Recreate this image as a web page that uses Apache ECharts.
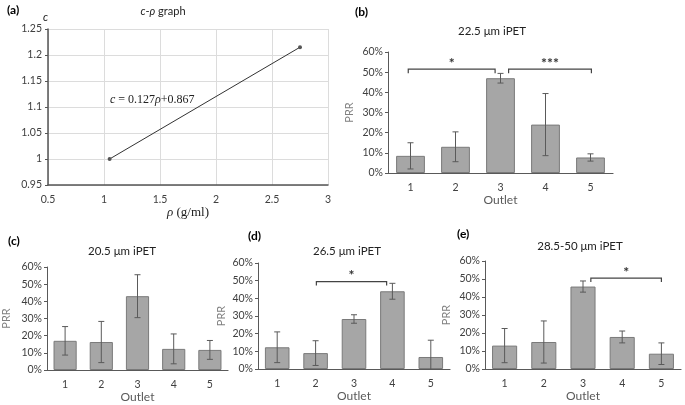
<!DOCTYPE html>
<html><head><meta charset="utf-8">
<script src="https://cdn.jsdelivr.net/npm/echarts/dist/echarts.min.js"></script>
<style>html,body{margin:0;padding:0;background:#fff}#c{width:685px;height:405px}</style>
</head><body><div id="c"></div>
<script>
// ---- data ----
const rhoPoints = [[1.05, 1.0], [2.75, 1.215]];
const outlets = ['1', '2', '3', '4', '5'];
// PRR values (%) and error half-widths (%)
const prrB = [8.5, 13.0, 47.0, 24.0, 7.7];
const errB = [6.5, 7.4, 2.4, 15.4, 1.8];
const prrC = [17.0, 16.3, 43.0, 12.3, 11.7];
const errC = [8.3, 12.0, 12.5, 8.7, 5.5];
const prrD = [12.3, 9.0, 28.3, 44.0, 6.8];
const errD = [8.7, 7.0, 2.4, 4.5, 9.5];
const prrE = [13.0, 15.0, 45.8, 17.8, 8.5];
const errE = [9.5, 11.7, 3.1, 3.3, 6.0];
// significance brackets: [from outlet, to outlet, level %, label]
const brB = [[0.95, 2.88, 51.5, '*'], [3.18, 5.02, 51.5, '***']];
const brD = [[2.02, 3.85, 49.5, '*']];
const brE = [[3.2, 5.0, 50.5, '*']];

const FONT = 'Lato';
const dark = '#404040';
const grey = '#595959';
const TICK = 10.5;

const grids = [
  {left: 48, top: 29, width: 280, height: 156},
  {left: 388, top: 52, width: 225, height: 121},
  {left: 42, top: 267, width: 186, height: 103},
  {left: 258, top: 263, width: 192, height: 106},
  {left: 485, top: 261, width: 196, height: 108}
];

function barXAxis(gi, gap) {
  return {
    type: 'category', gridIndex: gi, data: outlets,
    name: 'Outlet', nameLocation: 'middle', nameGap: gap,
    nameTextStyle: {fontFamily: FONT, fontSize: 12, color: grey},
    axisLine: {lineStyle: {color: grey, width: 1.2}},
    axisTick: {show: false},
    axisLabel: {fontFamily: FONT, fontSize: TICK, color: dark, margin: 9}
  };
}
function barYAxis(gi, gap) {
  return {
    type: 'value', gridIndex: gi, min: 0, max: 60, interval: 10,
    name: 'PRR', nameLocation: 'middle', nameGap: gap, nameRotate: 90,
    nameTextStyle: {fontFamily: FONT, fontSize: 11, color: '#808080'},
    axisLine: {show: true, lineStyle: {color: grey, width: 1}},
    axisTick: {show: true, length: 3, lineStyle: {color: grey}},
    splitLine: {show: false},
    axisLabel: {fontFamily: FONT, fontSize: TICK, color: dark, margin: 5, formatter: '{value}%'}
  };
}
function barSeries(gi, vals) {
  return {
    type: 'bar', xAxisIndex: gi, yAxisIndex: gi, data: vals,
    barCategoryGap: '36%',
    itemStyle: {color: '#a6a6a6', borderColor: '#7a7a7a', borderWidth: 1},
    silent: true, animation: false
  };
}
function errSeries(gi, vals, errs) {
  return {
    type: 'custom', xAxisIndex: gi, yAxisIndex: gi, animation: false, silent: true, z: 5,
    data: vals.map((v, i) => [i, v, errs[i]]),
    renderItem: function (params, api) {
      const x = api.value(0), v = api.value(1), e = api.value(2);
      const lo = Math.max(0, v - e), hi = v + e;
      const ph = api.coord([x, hi]), pl = api.coord([x, lo]);
      const w = 3;
      const st = {stroke: '#5a5a5a', lineWidth: 1};
      const ch = [
        {type: 'line', shape: {x1: ph[0], y1: ph[1], x2: pl[0], y2: pl[1]}, style: st},
        {type: 'line', shape: {x1: ph[0] - w, y1: ph[1], x2: ph[0] + w, y2: ph[1]}, style: st}
      ];
      if (v - e > 0) ch.push({type: 'line', shape: {x1: pl[0] - w, y1: pl[1], x2: pl[0] + w, y2: pl[1]}, style: st});
      return {type: 'group', children: ch};
    }
  };
}
function bracketSeries(gi, br) {
  return {
    type: 'custom', xAxisIndex: gi, yAxisIndex: gi, animation: false, silent: true, z: 6,
    data: br.map(b => [b[0], b[1], b[2]]),
    renderItem: function (params, api) {
      const b = br[params.dataIndex];
      const p0 = api.coord([0, b[2]]);
      const bw = api.size([1, 0])[0];
      const x1 = p0[0] + (b[0] - 1) * bw, x2 = p0[0] + (b[1] - 1) * bw, y = p0[1];
      const t = 4;
      return {type: 'group', children: [
        {type: 'polyline', shape: {points: [[x1, y + t], [x1, y], [x2, y], [x2, y + t]]},
         style: {stroke: '#444', lineWidth: 1.2, fill: null}},
        {type: 'text', x: (x1 + x2) / 2, y: y + 1,
         style: {text: b[3], font: 'bold 14px ' + FONT, fill: '#333', align: 'center', verticalAlign: 'bottom'}}
      ]};
    }
  };
}

const richIt = {
  i: {fontFamily: FONT, fontStyle: 'italic', fontWeight: 'normal', fontSize: 11, color: '#222'},
  n: {fontFamily: FONT, fontWeight: 'normal', fontSize: 11, color: '#222'}
};
function T(text, left, top, style, align) {
  const o = {text: text, left: left, top: top, padding: 0, textStyle: style};
  if (align) o.textAlign = align;
  return o;
}
const lblStyle = {fontFamily: FONT, fontWeight: 'bold', fontSize: 12, color: '#000'};
const ttlStyle = {fontFamily: FONT, fontWeight: 'normal', fontSize: 11.5, color: '#222'};

const option = {
  animation: false,
  backgroundColor: '#fff',
  title: [
    T('(a)', 7, 4, lblStyle),
    T('{i|c}{n|-}{i|ρ}{n| graph}', 163, 6, {rich: richIt, fontWeight: 'normal'}, 'center'),
    T('c', 43, 12, {fontFamily: FONT, fontStyle: 'italic', fontSize: 11, color: '#222', fontWeight: 'normal'}),
    T('{i|c} = 0.127{i|ρ}+0.867', 110, 94,
      {rich: {i: {fontFamily: 'Liberation Serif', fontStyle: 'italic', fontSize: 12, color: '#222'}},
       fontFamily: 'Liberation Serif', fontSize: 12, color: '#222', fontWeight: 'normal'}),
    T('(b)', 355, 6, lblStyle),
    T('22.5 μm iPET', 492, 25, ttlStyle, 'center'),
    T('(c)', 8, 235, lblStyle),
    T('20.5 μm iPET', 122, 245, ttlStyle, 'center'),
    T('(d)', 248, 230, lblStyle),
    T('26.5 μm iPET', 347, 245, ttlStyle, 'center'),
    T('(e)', 457, 228, lblStyle),
    T('28.5-50 μm iPET', 580, 240, ttlStyle, 'center')
  ],
  grid: grids,
  xAxis: [
    {type: 'value', gridIndex: 0, min: 0.5, max: 3, interval: 0.5,
     name: '{i|ρ} (g/ml)', nameLocation: 'middle', nameGap: 19,
     nameTextStyle: {fontFamily: 'Liberation Serif', fontSize: 13, color: '#222',
                     rich: {i: {fontFamily: 'Liberation Serif', fontStyle: 'italic', fontSize: 13, color: '#222'}}},
     axisLine: {lineStyle: {color: '#555', width: 1.5}}, axisTick: {show: false},
     splitLine: {show: true, lineStyle: {color: '#dcdcdc'}},
     axisLabel: {fontFamily: FONT, fontSize: TICK, color: dark, margin: 9}},
    barXAxis(1, 18), barXAxis(2, 20), barXAxis(3, 19), barXAxis(4, 21)
  ],
  yAxis: [
    {type: 'value', gridIndex: 0, min: 0.95, max: 1.25, interval: 0.05,
     axisLine: {show: true, lineStyle: {color: '#555', width: 1.5}},
     axisTick: {show: true, length: 3, lineStyle: {color: '#555'}},
     splitLine: {show: true, lineStyle: {color: '#dcdcdc'}},
     axisLabel: {fontFamily: FONT, fontSize: TICK, color: dark, margin: 6,
                 formatter: v => String(Math.round(v * 100) / 100)}},
    barYAxis(1, 33), barYAxis(2, 35), barYAxis(3, 31), barYAxis(4, 33)
  ],
  series: [
    {type: 'line', xAxisIndex: 0, yAxisIndex: 0, data: rhoPoints, symbol: 'circle', symbolSize: 4,
     lineStyle: {color: '#333', width: 1}, itemStyle: {color: '#555'}, silent: true},
    barSeries(1, prrB), errSeries(1, prrB, errB), bracketSeries(1, brB),
    barSeries(2, prrC), errSeries(2, prrC, errC),
    barSeries(3, prrD), errSeries(3, prrD, errD), bracketSeries(3, brD),
    barSeries(4, prrE), errSeries(4, prrE, errE), bracketSeries(4, brE)
  ]
};
const chart = echarts.init(document.getElementById('c'), null, {renderer: 'canvas'});
chart.setOption(option);
</script></body></html>
